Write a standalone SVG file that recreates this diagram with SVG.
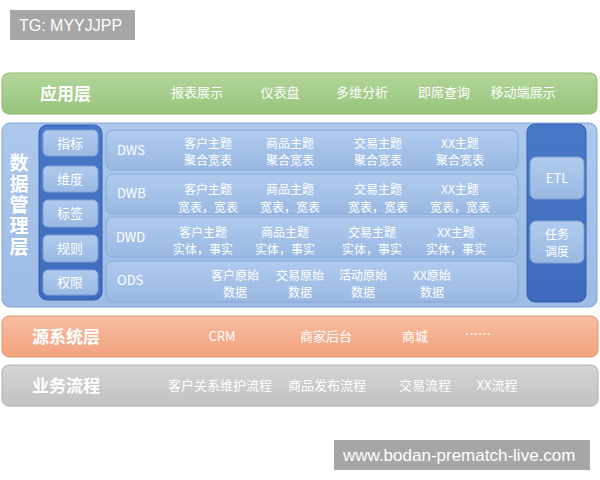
<svg xmlns="http://www.w3.org/2000/svg" width="600" height="480" viewBox="0 0 600 480">
<defs>
<linearGradient id="gGreen" x1="0" y1="0" x2="0" y2="1"><stop offset="0" stop-color="#b3d69b"/><stop offset="1" stop-color="#97c57c"/></linearGradient>
<linearGradient id="gBlue" x1="0" y1="0" x2="0" y2="1"><stop offset="0" stop-color="#adc8ec"/><stop offset="1" stop-color="#9dbbe4"/></linearGradient>
<linearGradient id="gRow" x1="0" y1="0" x2="0" y2="1"><stop offset="0" stop-color="#b0cbee"/><stop offset="1" stop-color="#9ab8e2"/></linearGradient>
<linearGradient id="gDark" x1="0" y1="0" x2="0" y2="1"><stop offset="0" stop-color="#4a78c8"/><stop offset="1" stop-color="#3e6bbd"/></linearGradient>
<linearGradient id="gOrange" x1="0" y1="0" x2="0" y2="1"><stop offset="0" stop-color="#f8bda2"/><stop offset="1" stop-color="#f2a27d"/></linearGradient>
<linearGradient id="gGray" x1="0" y1="0" x2="0" y2="1"><stop offset="0" stop-color="#d4d4d4"/><stop offset="1" stop-color="#c2c2c2"/></linearGradient>
</defs>
<style>
text{font-family:"Noto Sans CJK SC","Liberation Sans",sans-serif;fill:#ffffff;}
.t{font-size:13px;text-anchor:middle;}
.c{font-size:12px;text-anchor:middle;}
.lab{font-size:13px;}
.big{font-size:17px;font-weight:bold;}
.vert{font-size:19px;font-weight:bold;writing-mode:vertical-rl;letter-spacing:2px;}
.row{fill:url(#gRow);stroke:#86a8d8;stroke-width:1;}
.item{fill:url(#gRow);stroke:#7fa2d6;stroke-width:1;}
.wm{fill:#a6a6a6;}
.wmt{font-family:"Liberation Sans",sans-serif;fill:#ffffff;}
</style>

<g id="tg">
<rect class="wm" x="10" y="10" width="125" height="30"/>
<text class="wmt" x="19" y="31" font-size="16">TG: MYYJJPP</text>
</g>

<g id="app-layer">
<rect x="2" y="73" width="595" height="41" rx="7" fill="url(#gGreen)" stroke="#8db872"/>
<text class="big" x="40" y="100">应用层</text>
<text class="t" x="197" y="97">报表展示</text>
<text class="t" x="280" y="97">仪表盘</text>
<text class="t" x="362" y="97">多维分析</text>
<text class="t" x="444" y="97">即席查询</text>
<text class="t" x="523" y="97">移动端展示</text>
</g>

<g id="data-layer">
<rect x="2" y="123" width="595" height="184" rx="8" fill="url(#gBlue)" stroke="#7fa3d6"/>
<text class="vert" x="19" y="153">数据管理层</text>
</g>

<g id="left-column">
<rect x="39" y="125" width="63" height="175" rx="8" fill="url(#gDark)" stroke="#3561b0"/>
<rect class="item" x="43" y="130" width="55" height="26" rx="5"/>
<text class="t" x="70" y="148">指标</text>
<rect class="item" x="43" y="166" width="55" height="26" rx="5"/>
<text class="t" x="70" y="184">维度</text>
<rect class="item" x="43" y="200" width="55" height="27" rx="5"/>
<text class="t" x="70" y="218">标签</text>
<rect class="item" x="43" y="235" width="55" height="27" rx="5"/>
<text class="t" x="70" y="253">规则</text>
<rect class="item" x="43" y="270" width="55" height="25" rx="5"/>
<text class="t" x="70" y="287">权限</text>
</g>

<g id="dws">
<rect class="row" x="106" y="130" width="412" height="40" rx="7"/>
<text class="lab" x="117" y="155">DWS</text>
<text class="c"><tspan x="208" y="147.5">客户主题</tspan><tspan x="208" y="165">聚合宽表</tspan></text>
<text class="c"><tspan x="290" y="147.5">商品主题</tspan><tspan x="290" y="165">聚合宽表</tspan></text>
<text class="c"><tspan x="378" y="147.5">交易主题</tspan><tspan x="378" y="165">聚合宽表</tspan></text>
<text class="c"><tspan x="460" y="147.5">XX主题</tspan><tspan x="460" y="165">聚合宽表</tspan></text>
</g>

<g id="dwb">
<rect class="row" x="106" y="174" width="412" height="40" rx="7"/>
<text class="lab" x="117" y="198">DWB</text>
<text class="c"><tspan x="208" y="194">客户主题</tspan><tspan x="208" y="211.5">宽表，宽表</tspan></text>
<text class="c"><tspan x="290" y="194">商品主题</tspan><tspan x="290" y="211.5">宽表，宽表</tspan></text>
<text class="c"><tspan x="378" y="194">交易主题</tspan><tspan x="378" y="211.5">宽表，宽表</tspan></text>
<text class="c"><tspan x="460" y="194">XX主题</tspan><tspan x="460" y="211.5">宽表，宽表</tspan></text>
</g>

<g id="dwd">
<rect class="row" x="106" y="217" width="412" height="40" rx="7"/>
<text class="lab" x="116" y="242">DWD</text>
<text class="c"><tspan x="203" y="236.5">客户主题</tspan><tspan x="203" y="254">实体，事实</tspan></text>
<text class="c"><tspan x="285" y="236.5">商品主题</tspan><tspan x="285" y="254">实体，事实</tspan></text>
<text class="c"><tspan x="372" y="236.5">交易主题</tspan><tspan x="372" y="254">实体，事实</tspan></text>
<text class="c"><tspan x="456" y="236.5">XX主题</tspan><tspan x="456" y="254">实体，事实</tspan></text>
</g>

<g id="ods">
<rect class="row" x="106" y="261" width="412" height="41" rx="7"/>
<text class="lab" x="117" y="285">ODS</text>
<text class="c"><tspan x="235" y="279.5">客户原始</tspan><tspan x="235" y="297">数据</tspan></text>
<text class="c"><tspan x="300" y="279.5">交易原始</tspan><tspan x="300" y="297">数据</tspan></text>
<text class="c"><tspan x="363" y="279.5">活动原始</tspan><tspan x="363" y="297">数据</tspan></text>
<text class="c"><tspan x="432" y="279.5">XX原始</tspan><tspan x="432" y="297">数据</tspan></text>
</g>

<g id="right-column">
<rect x="527" y="124" width="59" height="178" rx="8" fill="url(#gDark)" stroke="#3561b0"/>
<rect class="item" x="530" y="157" width="54" height="42" rx="6"/>
<text class="t" x="557" y="183">ETL</text>
<rect class="item" x="530" y="221" width="54" height="42" rx="6"/>
<text class="c"><tspan x="557" y="238.5">任务</tspan><tspan x="557" y="256">调度</tspan></text>
</g>

<g id="source-layer">
<rect x="2" y="316" width="596" height="41" rx="7" fill="url(#gOrange)" stroke="#e9946c"/>
<text class="big" x="32" y="343">源系统层</text>
<text class="t" x="222" y="341">CRM</text>
<text class="t" x="326" y="341">商家后台</text>
<text class="t" x="415" y="341">商城</text>
<text class="t" x="478" y="339" font-size="8">……</text>
</g>

<g id="business-layer">
<rect x="2" y="365" width="596" height="41" rx="7" fill="url(#gGray)" stroke="#aeaeae"/>
<text class="big" x="32" y="392">业务流程</text>
<text class="t" x="220" y="390">客户关系维护流程</text>
<text class="t" x="327" y="390">商品发布流程</text>
<text class="t" x="425" y="390">交易流程</text>
<text class="t" x="497" y="390">XX流程</text>
</g>

<g id="watermark">
<rect class="wm" x="334" y="440" width="256" height="30"/>
<text class="wmt" x="343" y="461" font-size="17">www.bodan-prematch-live.com</text>
</g>

<g id="connectors"></g>
</svg>
